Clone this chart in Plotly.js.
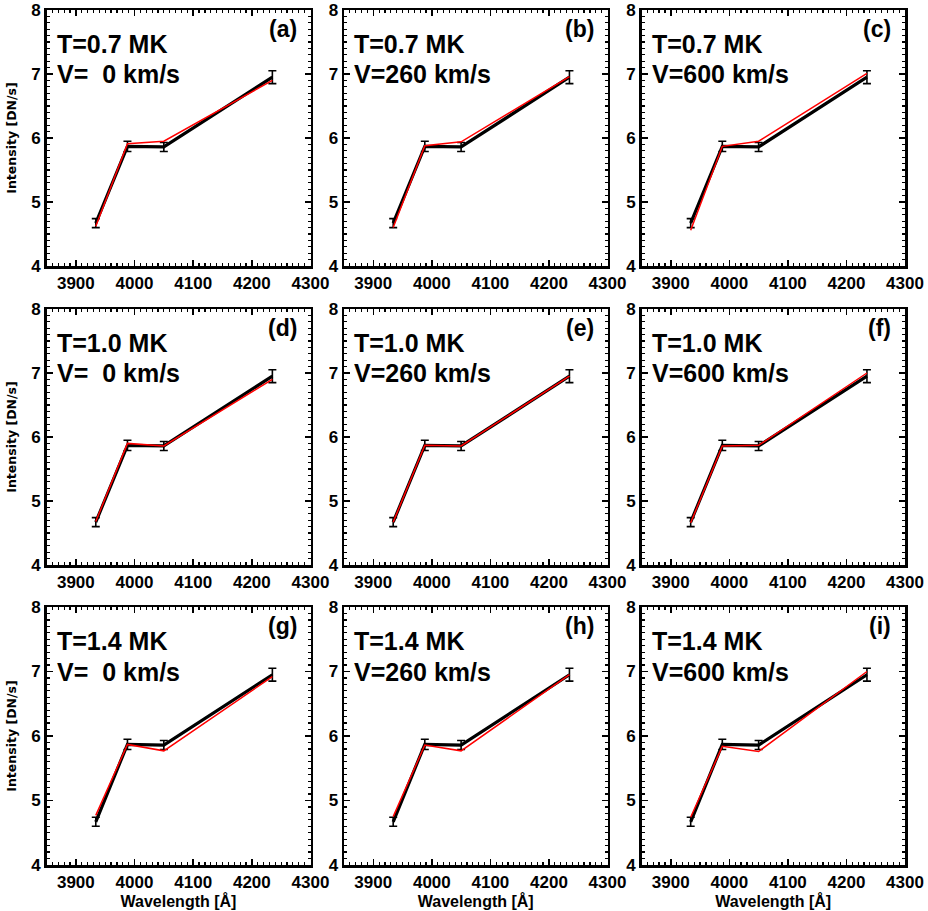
<!DOCTYPE html>
<html>
<head>
<meta charset="utf-8">
<script src="https://cdn.plot.ly/plotly-3.0.1.min.js"></script>
<style>
  html, body { margin: 0; padding: 0; background: #fff; }
  #chart { width: 928px; height: 911px; }
</style>
</head>
<body>
<div id="chart"></div>
<script>
// Observed line intensities (common to every panel) and model curves per panel
const wavelength = [3934, 3988, 4050, 4235];
const observed = [4.67, 5.87, 5.86, 6.95];
const observedErr = [0.07, 0.08, 0.07, 0.10];

const model_a = [4.62, 5.91, 5.95, 6.90];
const model_b = [4.60, 5.88, 5.94, 6.96];
const model_c = [4.56, 5.87, 5.95, 7.01];
const model_d = [4.68, 5.90, 5.86, 6.90];
const model_e = [4.67, 5.87, 5.86, 6.95];
const model_f = [4.66, 5.86, 5.87, 7.00];
const model_g = [4.77, 5.87, 5.77, 6.92];
const model_h = [4.75, 5.86, 5.77, 6.95];
const model_i = [4.74, 5.84, 5.76, 7.00];

const temperatures = ["0.7", "1.0", "1.4"];
const velocities = ["\u00a0\u00a00", "260", "600"];
const panelLetters = ["a", "b", "c", "d", "e", "f", "g", "h", "i"];
const xTicks = [3900, 4000, 4100, 4200, 4300];
const yTicks = [4, 5, 6, 7, 8];

const models = [model_a, model_b, model_c, model_d, model_e, model_f, model_g, model_h, model_i];

const W = 928, H = 911;
const colPx = [[46.5, 310.5], [344, 607.5], [641.5, 905]];
const rowPx = [[10, 266], [309, 565], [607, 865]];

const FONT = "Liberation Sans, Arial, Helvetica, sans-serif";
const traces = [];
const annotations = [];
const layout = {
  width: W, height: H,
  margin: {l: 0, r: 0, t: 0, b: 0},
  paper_bgcolor: "#fff",
  plot_bgcolor: "#fff",
  showlegend: false,
  font: {family: FONT, color: "#000", size: 17, weight: "bold"},
  annotations: annotations
};

for (let k = 0; k < 9; k++) {
  const r = Math.floor(k / 3), c = k % 3;
  const sfx = k === 0 ? "" : String(k + 1);
  const xa = "x" + sfx, ya = "y" + sfx;

  // observations with error bars, model curve drawn on top
  traces.push({
    x: wavelength, y: observed, xaxis: xa, yaxis: ya,
    type: "scatter", mode: "lines",
    line: {color: "#000", width: 3.2},
    error_y: {type: "data", array: observedErr, visible: true, color: "#000", thickness: 1.6, width: 4},
    hoverinfo: "skip"
  });
  traces.push({
    x: wavelength, y: models[k], xaxis: xa, yaxis: ya,
    type: "scatter", mode: "lines",
    line: {color: "#ff0000", width: 1.5},
    hoverinfo: "skip"
  });

  const axisCommon = {
    showgrid: false, zeroline: false,
    showline: true, linecolor: "#000", linewidth: 2.5,
    mirror: "allticks",
    ticks: "inside", ticklen: 6, tickwidth: 1.5, tickcolor: "#000",
    tickfont: {family: FONT, size: 17, color: "#000", weight: "bold"},
    fixedrange: true
  };

  layout["xaxis" + sfx] = Object.assign({}, axisCommon, {
    domain: [colPx[c][0] / W, colPx[c][1] / W],
    range: [3850, 4300],
    tickvals: xTicks, ticktext: xTicks.map(String),
    minor: {dtick: 10, tick0: 3850, ticks: "inside", ticklen: 3, tickwidth: 1.2, tickcolor: "#000"},
    anchor: ya,
    title: r === 2 ? {text: "Wavelength [Å]", font: {family: FONT, size: 16, color: "#000", weight: "bold"}, standoff: 2} : {text: ""}
  });
  layout["yaxis" + sfx] = Object.assign({}, axisCommon, {
    domain: [1 - rowPx[r][1] / H, 1 - rowPx[r][0] / H],
    range: [4, 8],
    tickvals: yTicks, ticktext: yTicks.map(String),
    minor: {dtick: 0.1, tick0: 4, ticks: "inside", ticklen: 3, tickwidth: 1.2, tickcolor: "#000"},
    anchor: xa,
    title: c === 0 ? {text: "Intensity [DN/s]", font: {family: "DejaVu Sans, sans-serif", size: 12.5, color: "#000", weight: "bold"}, standoff: 12} : {text: ""}
  });

  annotations.push({
    xref: xa, yref: ya, x: 3864, y: 7.47,
    xanchor: "left", yanchor: "middle", showarrow: false,
    text: "T=" + temperatures[r] + " MK",
    font: {family: FONT, size: 25, color: "#000", weight: "bold"}
  });
  annotations.push({
    xref: xa, yref: ya, x: 3864, y: 7.0,
    xanchor: "left", yanchor: "middle", showarrow: false,
    text: "V=" + velocities[c] + " km/s",
    font: {family: FONT, size: 25, color: "#000", weight: "bold"}
  });
  annotations.push({
    xref: xa, yref: ya, x: 4280, y: 7.70,
    xanchor: "right", yanchor: "middle", showarrow: false,
    text: "(" + panelLetters[k] + ")",
    font: {family: FONT, size: 23, color: "#000", weight: "bold"}
  });
}

Plotly.newPlot("chart", traces, layout, {displayModeBar: false, staticPlot: true});
</script>
</body>
</html>
